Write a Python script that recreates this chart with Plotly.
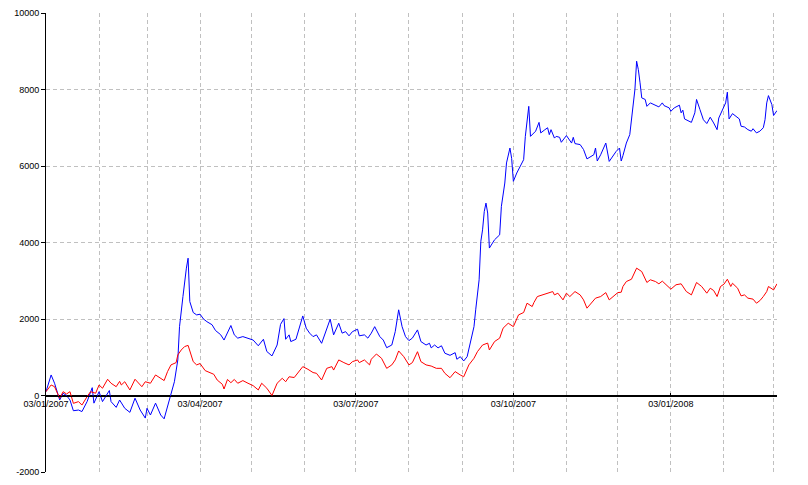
import pandas as pd
import plotly.graph_objects as go

START = "2007-01-03"
END = "2008-03-05"

# days since 03/01/2007 and values
blue_day = [0, 3, 5, 8, 10, 12, 14, 16, 19, 21,
            24, 27, 28, 31, 33, 37, 38, 41, 43, 46,
            49, 52, 55, 58, 59, 61, 64, 67, 69, 71,
            73, 75, 77, 78, 80, 81, 82, 83, 84, 86,
            88, 90, 92, 94, 97, 99, 102, 104, 108, 110,
            112, 115, 118, 121, 124, 127, 129, 132, 135, 137,
            139, 140, 142, 143, 146, 150, 152, 154, 156, 158,
            161, 164, 166, 168, 171, 173, 175, 177, 179, 182,
            183, 186, 188, 190, 192, 195, 197, 199, 202, 204,
            206, 208, 210, 212, 214, 217, 219, 222, 224, 225,
            227, 229, 231, 233, 236, 239, 240, 242, 244, 246,
            248, 250, 251, 253, 254, 255, 256, 257, 258, 259,
            262, 265, 266, 268, 269, 271, 272, 273, 275, 277,
            279, 280, 282, 283, 285, 286, 288, 289, 291, 293,
            294, 295, 297, 298, 300, 301, 304, 306, 307, 308,
            309, 312, 314, 316, 318, 320, 321, 322, 324, 327,
            329, 331, 333, 335, 336, 337, 339, 341, 342, 343,
            344, 345, 346, 347, 348, 350, 351, 353, 355, 357,
            358, 360, 361, 364, 365, 367, 370, 371, 372, 373,
            375, 377, 379, 380, 382, 384, 386, 388, 390, 392,
            393, 395, 397, 398, 399, 401, 403, 405, 406, 408,
            410, 412, 413, 415, 417, 419, 420, 421, 422, 424,
            425, 426, 427]
blue_val = [100, 537, 320, -118, 58, 0, -118, -398, -380, -420,
            -160, 205, -200, 100, -160, 130, -160, -310, -118, -335,
            -440, -70, -380, -590, -335, -510, -200, -510, -610, -290,
            58, 360, 930, 1800, 2590, 3025, 3330, 3590, 2455, 2170,
            2107, 2125, 2000, 1930, 1850, 1700, 1590, 1450, 1830, 1585,
            1500, 1540, 1500, 1450, 1300, 1470, 1150, 1035, 1320, 1860,
            2010, 1470, 1585, 1410, 1470, 2080, 1760, 1630, 1540, 1585,
            1365, 1760, 1995, 1585, 1890, 1630, 1670, 1560, 1670, 1733,
            1560, 1585, 1500, 1630, 1800, 1540, 1450, 1250, 1320, 1670,
            2240, 1800, 1540, 1435, 1500, 1715, 1410, 1320, 1365, 1245,
            1320, 1245, 1300, 1105, 1050, 1120, 948, 1015, 903, 1015,
            1455, 1800, 2240, 3025, 4030, 4330, 4810, 5030, 4770, 3855,
            4070, 4200, 4945, 5555, 6080, 6470, 6200, 5600, 5817, 5990,
            6165, 6775, 7560, 6775, 6865, 6910, 7140, 6865, 6935, 7000,
            6820, 6950, 6730, 6775, 6750, 6620, 6795, 6645, 6600, 6750,
            6585, 6560, 6430, 6185, 6250, 6295, 6470, 6130, 6295, 6600,
            6120, 6250, 6380, 6470, 6130, 6270, 6600, 6820, 7210, 7740,
            8000, 8740, 8520, 8175, 7780, 7740, 7560, 7650, 7605, 7580,
            7545, 7650, 7580, 7520, 7430, 7520, 7590, 7390, 7460, 7230,
            7185, 7140, 7390, 7740, 7475, 7210, 7110, 7275, 7125, 6950,
            7255, 7475, 7650, 7930, 7230, 7370, 7300, 7230, 7040, 7020,
            6950, 6910, 6975, 6865, 6910, 7000, 7210, 7650, 7840, 7605,
            7320, 7390, 7450]

red_day = [0, 3, 5, 8, 10, 12, 14, 16, 19, 21,
           24, 26, 29, 31, 33, 36, 38, 41, 43, 44,
           46, 49, 52, 54, 56, 58, 61, 64, 67, 69,
           71, 73, 76, 77, 79, 81, 83, 84, 86, 88,
           90, 93, 96, 98, 100, 103, 104, 106, 108, 110,
           112, 115, 118, 121, 124, 126, 129, 132, 135, 138,
           140, 142, 145, 150, 153, 156, 158, 161, 164, 167,
           168, 171, 174, 177, 179, 182, 183, 186, 189, 190,
           193, 196, 199, 202, 204, 206, 209, 212, 214, 217,
           219, 222, 225, 228, 231, 233, 236, 239, 242, 244,
           247, 250, 252, 255, 258, 259, 262, 265, 267, 270,
           273, 276, 279, 281, 284, 285, 287, 290, 292, 296,
           297, 299, 302, 304, 306, 309, 312, 314, 316, 319,
           321, 324, 327, 329, 332, 334, 336, 337, 339, 342,
           345, 348, 351, 353, 356, 358, 360, 362, 365, 368,
           371, 374, 377, 380, 383, 386, 388, 390, 392, 394,
           396, 398, 400, 401, 404, 406, 408, 410, 413, 415,
           417, 419, 421, 422, 425, 427]
red_val = [100, 275, 230, -75, 100, 40, 100, -205, -160, -250,
           -30, 100, 60, 275, 190, 425, 320, 230, 370, 275,
           360, 145, 425, 320, 230, 360, 320, 537, 450, 390,
           625, 800, 860, 1060, 1190, 1280, 1310, 1175, 885, 800,
           835, 650, 600, 555, 405, 293, 170, 420, 335, 420,
           320, 390, 320, 257, 145, 320, 190, 0, 320, 450,
           360, 490, 470, 755, 685, 600, 580, 405, 710, 755,
           665, 930, 860, 800, 885, 930, 860, 930, 800, 948,
           1085, 973, 710, 800, 930, 1165, 1015, 800, 860, 1145,
           885, 800, 770, 710, 710, 580, 465, 625, 537, 490,
           800, 973, 1145, 1320, 1370, 1190, 1410, 1500, 1760, 1890,
           1800, 2107, 2170, 2413, 2325, 2430, 2587, 2630, 2675, 2717,
           2630, 2675, 2500, 2675, 2587, 2717, 2630, 2500, 2283, 2455,
           2545, 2587, 2690, 2500, 2630, 2690, 2700, 2850, 2980, 3040,
           3330, 3240, 2955, 3025, 2980, 2920, 2990, 2895, 2780, 2895,
           2920, 2720, 2630, 2955, 2850, 2675, 2805, 2745, 2587, 2850,
           2910, 3040, 2850, 2935, 2805, 2605, 2630, 2545, 2520, 2413,
           2480, 2587, 2717, 2850, 2760, 2920]

quarter_ticks = ["2007-01-03", "2007-04-03", "2007-07-03", "2007-10-03", "2008-01-03"]
quarter_labels = ["03/01/2007", "03/04/2007", "03/07/2007", "03/10/2007", "03/01/2008"]
month_ticks = ["2007-02-03", "2007-03-03", "2007-05-03", "2007-06-03", "2007-08-03",
               "2007-09-03", "2007-11-03", "2007-12-03", "2008-02-03", "2008-03-03"]
y_ticks = [-2000, 0, 2000, 4000, 6000, 8000, 10000]
y_labels = ["-2000", "0", "2000", "4000", "6000", "8000", "10000"]

start = pd.Timestamp(START)
blue_x = start + pd.to_timedelta(blue_day, unit="D")
red_x = start + pd.to_timedelta(red_day, unit="D")

fig = go.Figure()
fig.add_trace(go.Scatter(x=blue_x, y=blue_val, mode="lines",
                         line=dict(color="#0000ff", width=1)))
fig.add_trace(go.Scatter(x=red_x, y=red_val, mode="lines",
                         line=dict(color="#ff0000", width=1)))

grid = "#c0c0c0"
dash = "4px,3px"
# the page body adds an 8px offset, so the figure is sized to fit the window
fig.update_layout(
    width=800, height=477,
    margin=dict(l=38, r=31, t=5, b=13),
    paper_bgcolor="white", plot_bgcolor="white",
    showlegend=False,
    font=dict(family="Liberation Sans, Arial, sans-serif", size=9, color="black"),
    xaxis=dict(
        type="date", range=[START, END], automargin=False,
        tickvals=quarter_ticks, ticktext=quarter_labels,
        ticks="inside", ticklen=3, tickcolor="black",
        showline=True, linecolor="black", linewidth=1,
        showgrid=True, gridcolor=grid, griddash=dash, gridwidth=1,
        zeroline=False,
        anchor="free", position=2000 / 12000,
        minor=dict(tickvals=month_ticks, showgrid=True, gridcolor=grid,
                   griddash=dash, gridwidth=1, ticks=""),
    ),
    yaxis=dict(
        range=[-2000, 10000], domain=[0, 1], automargin=False,
        tickvals=y_ticks, ticktext=y_labels,
        ticks="outside", ticklen=4, tickcolor="black",
        showline=True, linecolor="black", linewidth=1,
        showgrid=True, gridcolor=grid, griddash=dash, gridwidth=1,
        zeroline=True, zerolinecolor="black", zerolinewidth=1,
    ),
)

fig.write_html("out.html")
